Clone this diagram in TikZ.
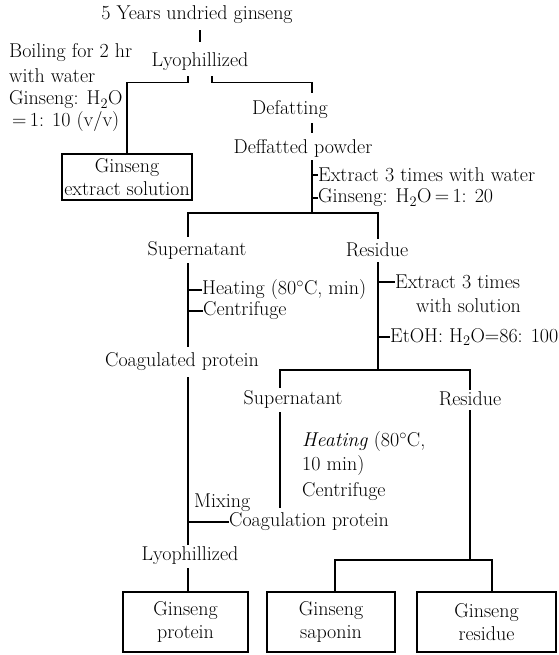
\documentclass[tikz,border=0pt]{standalone}
\begin{document}
\begin{tikzpicture}[x=1pt,y=-1pt,
  lbl/.style={font=\fontsize{20}{23}\selectfont, inner sep=0pt},
  ln/.style={line width=1.2pt},
  procbox/.style={draw, line width=1.2pt, align=center, inner sep=0pt,
    font=\fontsize{20}{23}\selectfont}]
\useasboundingbox (0,0) rectangle (558,655);
% column coordinates
\coordinate (cA) at (188,0);
\coordinate (cR) at (212,0);
\coordinate (cB) at (312,0);
\coordinate (cC) at (378,0);
\coordinate (cD) at (280,0);
\coordinate (cE) at (470,0);
\coordinate (cS) at (335,0);
\coordinate (cF) at (492,0);
\coordinate (split1) at (312,213);
\coordinate (split2) at (378,370);
\coordinate (split3) at (470,560);
% nodes
\node[lbl] (top) at (197,15) {5 Years undried ginseng};
\node[lbl] (lyoA) at (200,62) {Lyophillized};
\node[lbl,anchor=west] (boil1) at (9,53) {Boiling for 2 hr};
\node[lbl,anchor=west] (boil2) at (9,76) {with water};
\node[lbl,anchor=west] (boil3) at (9,100) {Ginseng: H$_2$O};
\node[lbl,anchor=west] (boil4) at (12,122) {=\,1: 10 (v/v)};
\node[procbox, minimum width=130pt, minimum height=46pt] (extbox) at (127,177) {Ginseng\\extract solution};
\node[lbl] (defat) at (290,110) {Defatting};
\node[lbl] (powder) at (303,148) {Deffatted powder};
\node[lbl,anchor=west] (exw) at (318,175) {Extract 3 times with water};
\node[lbl,anchor=west] (ratio1) at (318,198) {Ginseng: H$_2$O\,=\,1: 20};
\node[lbl] (sup1) at (197,250) {Supernatant};
\node[lbl] (res1) at (377,250) {Residue};
\node[lbl,anchor=west] (heat1) at (202,290) {Heating (80$^\circ$C, min)};
\node[lbl,anchor=west] (cent1) at (203,311) {Centrifuge};
\node[lbl,anchor=west] (ex3) at (395,282) {Extract 3 times};
\node[lbl,anchor=west] (withsol) at (416,306) {with solution};
\node[lbl,anchor=west] (etoh) at (390,337) {EtOH: H$_2$O=86: 100};
\node[lbl] (coag1) at (182,362) {Coagulated protein};
\node[lbl] (sup2) at (293,399) {Supernatant};
\node[lbl] (res2) at (470,399) {Residue};
\node[lbl,anchor=west] (heat2) at (302,442) {\textit{Heating} (80$^\circ$C,};
\node[lbl,anchor=west] (tenmin) at (302,466) {10 min)};
\node[lbl,anchor=west] (cent2) at (302,492) {Centrifuge};
\node[lbl,anchor=west] (mix) at (194,503) {Mixing};
\node[lbl,anchor=west] (coag2) at (229,522) {Coagulation protein};
\node[lbl] (lyoB) at (190,556) {Lyophillized};
\node[procbox, minimum width=125pt, minimum height=60pt] (pbox) at (185.5,622) {Ginseng\\protein};
\node[procbox, minimum width=128pt, minimum height=60pt] (sbox) at (331,622) {Ginseng\\saponin};
\node[procbox, minimum width=139pt, minimum height=60pt] (rbox) at (486.5,622) {Ginseng\\residue};
% connectors
\draw[ln, shorten <=6pt, shorten >=11pt] (top.south -| lyoA) -- (lyoA.north);
\draw[ln] (lyoA.south -| cA) ++(0,5) -- ++(0,6) -| (extbox.north);
\draw[ln] (lyoA.south -| cR) ++(0,5) -- ++(0,6) -| ([yshift=8pt]defat.north -| cB);
\draw[ln, shorten <=4pt, shorten >=6pt] (defat.south -| cB) -- (powder.north -| cB);
\draw[ln, shorten <=3pt] (powder.south -| cB) -- (split1);
\draw[ln] (exw.west -| cB) -- (exw.west);
\draw[ln] (ratio1.west -| cB) -- (ratio1.west);
\draw[ln] ([yshift=4pt]sup1.north -| cA) |- (split1) -| ([yshift=4pt]res1.north -| cC);
\draw[ln, shorten <=4pt, shorten >=6pt] (sup1.south -| cA) -- (coag1.north -| cA);
\draw[ln] (heat1.west -| cA) -- (heat1.west);
\draw[ln] (cent1.west -| cA) -- (cent1.west);
\draw[ln, shorten <=5pt] (res1.south -| cC) -- (split2);
\draw[ln] (ex3.west -| cC) -- (ex3.west);
\draw[ln] (etoh.west -| cC) -- (etoh.west);
\draw[ln] ([yshift=2pt]sup2.north -| cD) |- (split2) -| ([yshift=2pt]res2.north -| cE);
\draw[ln, shorten <=4pt, shorten >=5pt] (sup2.south -| cD) -- (coag2.north -| cD);
\draw[ln, shorten <=6pt, shorten >=2pt] (coag1.south -| cA) -- (lyoB.north -| cA);
\draw[ln] (coag2.west -| cA) -- (coag2.west);
\draw[ln, shorten <=3pt] (lyoB.south -| cA) -- (pbox.north -| cA);
\draw[ln, shorten <=4pt] (res2.south -| cE) -- (split3);
\draw[ln] (sbox.north -| cS) |- (split3) -| (rbox.north -| cF);
\end{tikzpicture}
\end{document}
